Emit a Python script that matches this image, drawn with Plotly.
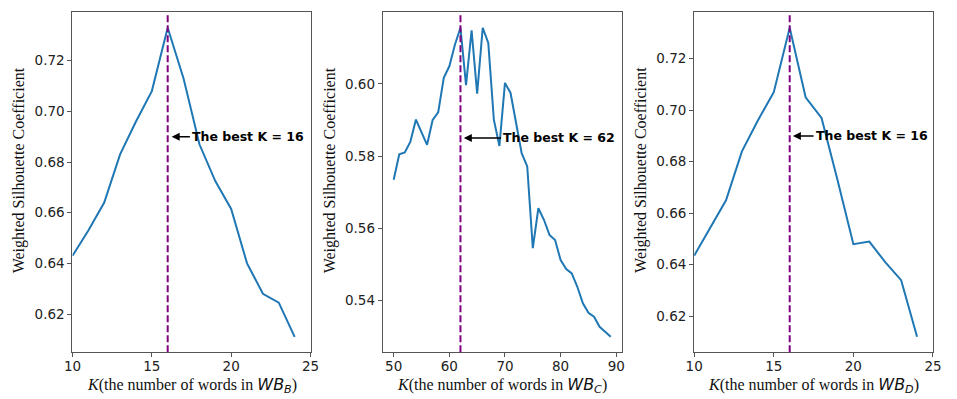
import plotly.graph_objects as go

# ---------------- data ----------------
k_b = list(range(10, 25))
wsc_b = [0.643, 0.653, 0.664, 0.683, 0.696, 0.708, 0.733, 0.713, 0.687,
         0.6725, 0.6615, 0.640, 0.628, 0.6245, 0.611]

k_c = list(range(50, 90))
wsc_c = [0.5734, 0.5805, 0.5810, 0.5840, 0.5901, 0.5864, 0.5831, 0.5900,
         0.5921, 0.6017, 0.6049, 0.6109, 0.6156, 0.5997, 0.6149, 0.5973,
         0.6156, 0.6114, 0.5901, 0.5828, 0.6003, 0.5975, 0.5892, 0.5808,
         0.5771, 0.5544, 0.5655, 0.5623, 0.5581, 0.5567, 0.5511, 0.5486,
         0.5474, 0.5437, 0.5391, 0.5365, 0.5354, 0.5326, 0.5312, 0.5298]

k_d = list(range(10, 25))
wsc_d = [0.6435, 0.654, 0.665, 0.684, 0.696, 0.707, 0.732, 0.705, 0.697,
         0.673, 0.648, 0.649, 0.641, 0.634, 0.612]

best_k = [16, 62, 16]
xlims = [[10, 25], None, [10, 25]]
x_ticks = [[10, 15, 20, 25], [50, 60, 70, 80, 90], [10, 15, 20, 25]]
y_ticks = [[0.62, 0.64, 0.66, 0.68, 0.70, 0.72],
           [0.54, 0.56, 0.58, 0.60],
           [0.62, 0.64, 0.66, 0.68, 0.70, 0.72]]
subs = ["B", "C", "D"]
ann_y = [0.69, 0.585, 0.69]
ann_head_dx = [0.25, 0.6, 0.2]
ann_text_dx = [1.4, 7.3, 1.5]

series = [(k_b, wsc_b), (k_c, wsc_c), (k_d, wsc_d)]

# ---------------- layout constants ----------------
W, H = 957, 399
x_domains = [[64.7 / W, 307.3 / W], [381.0 / W, 624.3 / W], [698.3 / W, 941.7 / W]]
y_domain = [1 - 352.3 / H, 1 - 12.3 / H]
ytitle_x = [10.5 / W, 327.5 / W, 644.0 / W]
ytitle_y = 1 - 170 / H
xtitle_y = 1 - 385 / H

LINE_BLUE = "#1f77b4"
SPINE = "#555555"
TICKFONT = dict(family="DejaVu Sans", size=13.5, color="#222222")
SERIF = "Liberation Serif"

fig = go.Figure()
annotations = []
shapes = []

for i, (kx, vy) in enumerate(series):
    n = i + 1
    xa = "x" if n == 1 else f"x{n}"
    ya = "y" if n == 1 else f"y{n}"
    fig.add_trace(go.Scatter(x=kx, y=vy, mode="lines",
                             line=dict(color=LINE_BLUE, width=2),
                             xaxis=xa, yaxis=ya, showlegend=False,
                             hoverinfo="skip"))

    # ranges (matplotlib-like 5% margins on y, and on x when not fixed)
    ymin, ymax = min(vy), max(vy)
    pad = 0.05 * (ymax - ymin)
    yr = [ymin - pad, ymax + pad]
    if xlims[i] is None:
        xmin, xmax = min(kx), max(kx)
        xp = 0.05 * (xmax - xmin)
        xr = [xmin - xp, xmax + xp]
    else:
        xr = xlims[i]

    axis_common = dict(showline=True, linecolor=SPINE, linewidth=1.3, mirror=True,
                       ticks="outside", ticklen=4, tickwidth=1, tickcolor=SPINE,
                       showgrid=False, zeroline=False, tickfont=TICKFONT)
    fig.update_layout(**{
        ("xaxis" if n == 1 else f"xaxis{n}"): dict(
            domain=x_domains[i], anchor=ya, range=xr,
            tickvals=x_ticks[i], ticklabelstandoff=-3, **axis_common),
        ("yaxis" if n == 1 else f"yaxis{n}"): dict(
            domain=y_domain, anchor=xa, range=yr,
            tickvals=y_ticks[i], tickformat=".2f", **axis_common),
    })

    # best-K vertical dashed line
    shapes.append(dict(type="line", xref=xa, yref=f"{ya} domain",
                       x0=best_k[i], x1=best_k[i], y0=0, y1=1,
                       line=dict(color="#800080", width=2, dash="7px,3px")))

    # arrow annotation
    annotations.append(dict(
        x=best_k[i] + ann_head_dx[i], y=ann_y[i], xref=xa, yref=ya,
        ax=best_k[i] + ann_text_dx[i], ay=ann_y[i], axref=xa, ayref=ya,
        text=f"<b>The best K = {best_k[i]}</b>", showarrow=True,
        arrowhead=2, arrowsize=1, arrowwidth=1.6, arrowcolor="black",
        xanchor="left", yanchor="middle",
        font=dict(family="DejaVu Sans", size=12.5, color="black")))

    # y-axis title
    annotations.append(dict(
        x=ytitle_x[i], y=ytitle_y, xref="paper", yref="paper",
        text="Weighted Silhouette Coefficient", textangle=-90, showarrow=False,
        xanchor="center", yanchor="middle",
        font=dict(family=SERIF, size=16, color="#111111")))

    # x-axis title
    annotations.append(dict(
        x=(x_domains[i][0] + x_domains[i][1]) / 2, y=xtitle_y,
        xref="paper", yref="paper", showarrow=False,
        xanchor="center", yanchor="middle",
        text=("<i>K</i>(the number of words in "
              "<span style=\"font-family:DejaVu Sans\"><i>WB<sub>"
              f"{subs[i]}</sub></i></span>)"),
        font=dict(family=SERIF, size=16, color="#111111")))

fig.update_layout(width=W, height=H, margin=dict(l=0, r=0, t=0, b=0),
                  paper_bgcolor="white", plot_bgcolor="white",
                  annotations=annotations, shapes=shapes)

fig.write_html("out.html", config={"displayModeBar": False},
               post_script="document.body.style.margin='0';"
                           "document.body.style.overflow='hidden';")
